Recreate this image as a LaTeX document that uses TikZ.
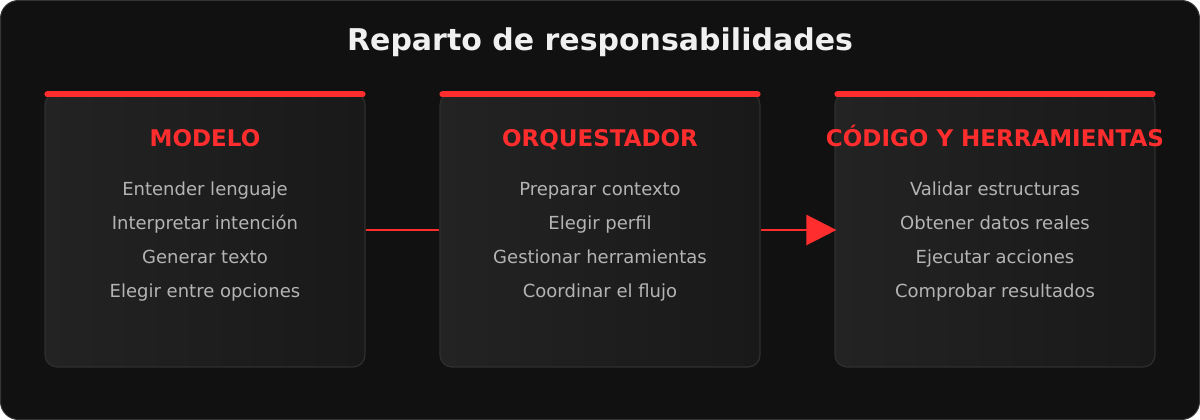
\documentclass[tikz,border=0pt]{standalone}
\usepackage{fontspec}
\setmainfont{DejaVu Sans}
\usepackage{xcolor}
\usetikzlibrary{positioning,arrows.meta,calc}

\definecolor{bgdark}{HTML}{111111}
\definecolor{bgedge}{HTML}{343434}
\definecolor{cardleft}{HTML}{232323}
\definecolor{cardright}{HTML}{191919}
\definecolor{cardedge}{HTML}{2F2F2F}
\definecolor{accent}{HTML}{FF2D2D}
\definecolor{itemgray}{HTML}{B4B4B4}
\definecolor{titlewhite}{HTML}{F0F0F0}

\begin{document}
\begin{tikzpicture}[
    x=1pt, y=1pt,
    card/.style={rectangle, rounded corners=12pt, draw=cardedge, line width=1.2pt,
        left color=cardleft, right color=cardright,
        minimum width=320pt, minimum height=274pt, inner sep=0pt},
    topbar/.style={accent, line width=6pt, line cap=round},
    head/.style={font=\fontsize{23}{27}\bfseries\selectfont, text=accent,
        text height=17pt, text depth=0pt, inner sep=0pt},
    items/.style={font=\fontsize{18}{34}\selectfont, text=itemgray, align=center, inner sep=0pt},
    link/.style={accent, line width=2.5pt},
    title/.style={font=\fontsize{30}{36}\bfseries\selectfont, text=titlewhite}
]

% Background panel
\useasboundingbox (0,0) rectangle (1200,-420);
\fill[white] (0,0) rectangle (1200,-420);
\draw[fill=bgdark, draw=bgedge, line width=1pt, rounded corners=18pt] (0.5,-0.5) rectangle (1199.5,-419.5);

% Title
\node[title] (ttl) at (600,-42) {Reparto de responsabilidades};

% Cards
\node[card] (modelo) at (205,-230) {};
\node[card] (orq) at (600,-230) {};
\node[card] (codigo) at (995,-230) {};

% Red bars on top of each card
\draw[topbar] ([xshift=3pt,yshift=-2pt]modelo.north west) -- ([xshift=-3pt,yshift=-2pt]modelo.north east);
\draw[topbar] ([xshift=3pt,yshift=-2pt]orq.north west) -- ([xshift=-3pt,yshift=-2pt]orq.north east);
\draw[topbar] ([xshift=3pt,yshift=-2pt]codigo.north west) -- ([xshift=-3pt,yshift=-2pt]codigo.north east);

% Card 1: Modelo
\node[head] (h1) at ($(modelo.north)+(0,-46)$) {MODELO};
\node[items, below=35pt of h1] (l1) {Entender lenguaje\\Interpretar intención\\Generar texto\\Elegir entre opciones};

% Card 2: Orquestador
\node[head] (h2) at ($(orq.north)+(0,-46)$) {ORQUESTADOR};
\node[items, below=35pt of h2] (l2) {Preparar contexto\\Elegir perfil\\Gestionar herramientas\\Coordinar el flujo};

% Card 3: Codigo y herramientas
\node[head] (h3) at ($(codigo.north)+(0,-46)$) {CÓDIGO Y HERRAMIENTAS};
\node[items, below=35pt of h3] (l3) {Validar estructuras\\Obtener datos reales\\Ejecutar acciones\\Comprobar resultados};

% Connectors
\draw[link] (modelo.east) -- (orq.west);
\draw[link, -{Triangle[length=30pt,width=30pt]}] (orq.east) -- ([xshift=2pt]codigo.west);

\end{tikzpicture}
\end{document}
